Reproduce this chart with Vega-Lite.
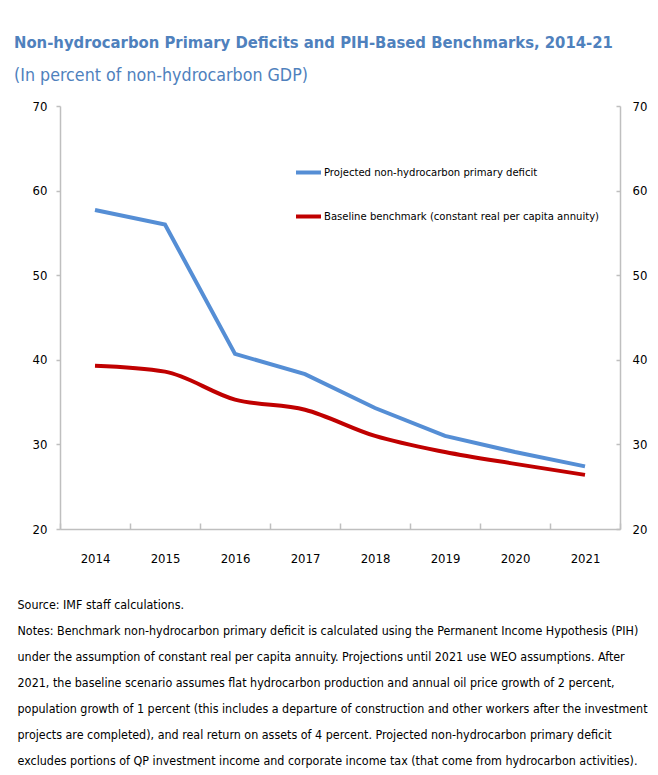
{
  "$schema": "https://vega.github.io/schema/vega-lite/v6.json",
  "autosize": "none",
  "padding": {"left": 60, "top": 106, "right": 38, "bottom": 246},
  "width": 560,
  "height": 423,
  "background": "white",
  "title": {
    "text": "Non-hydrocarbon Primary Deficits and PIH-Based Benchmarks, 2014-21",
    "subtitle": "(In percent of non-hydrocarbon GDP)",
    "anchor": "start",
    "frame": "group",
    "dx": -46,
    "offset": 15,
    "font": "DejaVu Sans Condensed, Lato, sans-serif",
    "fontSize": 16.5,
    "fontWeight": "bold",
    "color": "#4F81BD",
    "subtitleFont": "DejaVu Sans Condensed, Lato, sans-serif",
    "subtitleFontSize": 17.7,
    "subtitleColor": "#4F81BD",
    "subtitlePadding": 16
  },
  "data": {
    "values": [
      {"year": "2014", "series": "Projected non-hydrocarbon primary deficit", "value": 57.7},
      {"year": "2015", "series": "Projected non-hydrocarbon primary deficit", "value": 56.0},
      {"year": "2016", "series": "Projected non-hydrocarbon primary deficit", "value": 40.7},
      {"year": "2017", "series": "Projected non-hydrocarbon primary deficit", "value": 38.3},
      {"year": "2018", "series": "Projected non-hydrocarbon primary deficit", "value": 34.3},
      {"year": "2019", "series": "Projected non-hydrocarbon primary deficit", "value": 31.0},
      {"year": "2020", "series": "Projected non-hydrocarbon primary deficit", "value": 29.1},
      {"year": "2021", "series": "Projected non-hydrocarbon primary deficit", "value": 27.4},
      {"year": "2014", "series": "Baseline benchmark (constant real per capita annuity)", "value": 39.3},
      {"year": "2015", "series": "Baseline benchmark (constant real per capita annuity)", "value": 38.6},
      {"year": "2016", "series": "Baseline benchmark (constant real per capita annuity)", "value": 35.3},
      {"year": "2017", "series": "Baseline benchmark (constant real per capita annuity)", "value": 34.1},
      {"year": "2018", "series": "Baseline benchmark (constant real per capita annuity)", "value": 31.0},
      {"year": "2019", "series": "Baseline benchmark (constant real per capita annuity)", "value": 29.1},
      {"year": "2020", "series": "Baseline benchmark (constant real per capita annuity)", "value": 27.7},
      {"year": "2021", "series": "Baseline benchmark (constant real per capita annuity)", "value": 26.4}
    ]
  },
  "encoding": {
    "x": {
      "field": "year",
      "type": "ordinal",
      "bandPosition": 0.5,
      "scale": {"type": "band", "paddingInner": 0, "paddingOuter": 0},
      "axis": {
        "tickBand": "extent",
        "labelAngle": 0,
        "domainColor": "#BFBFBF",
        "domainWidth": 1.5,
        "tickColor": "#BFBFBF",
        "tickWidth": 1.5,
        "tickSize": -6,
        "labelFont": "DejaVu Sans Condensed, Lato, sans-serif",
        "labelFontSize": 13,
        "labelColor": "#000000",
        "labelPadding": 29,
        "title": [
          "Source: IMF staff calculations.",
          "Notes: Benchmark non-hydrocarbon primary deficit is calculated using the Permanent Income Hypothesis (PIH)",
          "under the assumption of constant real per capita annuity. Projections until 2021 use WEO assumptions.  After",
          "2021,  the baseline scenario assumes flat hydrocarbon production and annual oil price growth of 2 percent,",
          "population growth of 1 percent (this includes a departure of  construction and other workers after the investment",
          "projects are completed), and real return on assets of 4 percent. Projected non-hydrocarbon primary deficit",
          "excludes  portions of QP investment income  and corporate income tax (that come from hydrocarbon activities)."
        ],
        "titleFont": "DejaVu Sans Condensed, Lato, sans-serif",
        "titleFontSize": 12.4,
        "titleFontWeight": "normal",
        "titleColor": "#000000",
        "titleLineHeight": 26,
        "titleAnchor": "start",
        "titleAlign": "left",
        "titleBaseline": "top",
        "titleX": -43,
        "titleY": 69
      }
    },
    "color": {
      "field": "series",
      "type": "nominal",
      "scale": {
        "domain": ["Projected non-hydrocarbon primary deficit", "Baseline benchmark (constant real per capita annuity)"],
        "range": ["#558ED5", "#C00000"]
      },
      "legend": {
        "title": null,
        "orient": "none",
        "legendX": 234,
        "legendY": 52,
        "direction": "vertical",
        "symbolType": "stroke",
        "symbolSize": 625,
        "symbolStrokeWidth": 4,
        "labelFont": "DejaVu Sans Condensed, Lato, sans-serif",
        "labelFontSize": 11.2,
        "labelColor": "#000000",
        "labelOffset": 1,
        "labelLimit": 500,
        "rowPadding": 21
      }
    }
  },
  "layer": [
    {
      "transform": [{"filter": "datum.series === 'Projected non-hydrocarbon primary deficit'"}],
      "mark": {"type": "line", "strokeWidth": 4, "interpolate": "linear"},
      "encoding": {
        "y": {
          "field": "value",
          "type": "quantitative",
          "scale": {"domain": [20, 70], "nice": false, "zero": false},
          "axis": {
            "orient": "left",
            "values": [20, 30, 40, 50, 60, 70],
            "grid": false,
            "title": null,
            "domainColor": "#BFBFBF",
            "domainWidth": 1.5,
            "tickColor": "#BFBFBF",
            "tickWidth": 1.5,
            "tickSize": 4,
            "labelFont": "DejaVu Sans Condensed, Lato, sans-serif",
            "labelFontSize": 13,
            "labelColor": "#000000",
            "labelPadding": 9
          }
        }
      }
    },
    {
      "transform": [{"filter": "datum.series === 'Baseline benchmark (constant real per capita annuity)'"}],
      "mark": {"type": "line", "strokeWidth": 4, "interpolate": "monotone"},
      "encoding": {
        "y": {
          "field": "value",
          "type": "quantitative",
          "scale": {"domain": [20, 70], "nice": false, "zero": false},
          "axis": {
            "orient": "right",
            "values": [20, 30, 40, 50, 60, 70],
            "grid": false,
            "title": null,
            "domainColor": "#BFBFBF",
            "domainWidth": 1.5,
            "tickColor": "#BFBFBF",
            "tickWidth": 1.5,
            "tickSize": -4,
            "labelFont": "DejaVu Sans Condensed, Lato, sans-serif",
            "labelFontSize": 13,
            "labelColor": "#000000",
            "labelPadding": 16
          }
        }
      }
    }
  ],
  "resolve": {"axis": {"y": "independent"}},
  "config": {"view": {"stroke": null}}
}
